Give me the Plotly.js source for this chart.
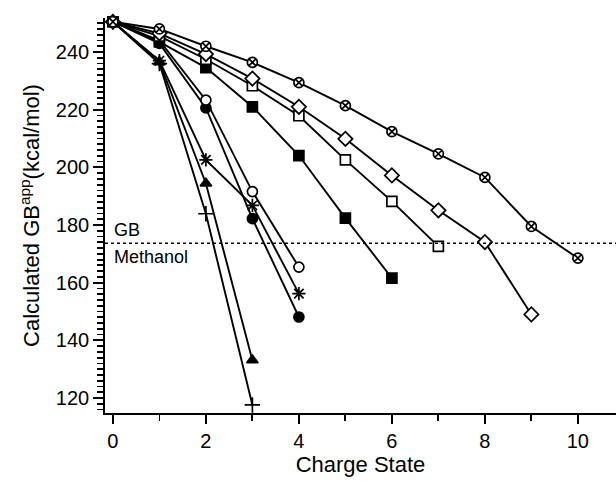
<!DOCTYPE html>
<html>
<head>
<meta charset="utf-8">
<script src="https://cdn.plot.ly/plotly-3.0.1.min.js"></script>
<style>html,body{margin:0;padding:0;background:#fff;}#chart{width:616px;height:482px;}</style>
</head>
<body>
<div id="chart"></div>
<script>
// Charge states
const chargeA = [0,1,2,3,4,5,6,7,8,9,10];
const gbA = [250.5,248,242,236.4,229.4,221.4,212.4,204.7,196.5,179.5,168.5];   // circle-x (open)
const chargeB = [0,1,2,3,4,5,6,7,8,9];
const gbB = [250.5,246.5,239.3,230.8,221,209.9,197.2,185.1,174.1,149];        // open diamond
const chargeC = [0,1,2,3,4,5,6,7];
const gbC = [250.5,245.5,237.5,228.3,217.9,202.6,188.2,172.6];                // open square
const chargeD = [0,1,2,3,4,5,6];
const gbD = [250.5,243.5,234.6,221,204.1,182.4,161.6];                        // filled square
const chargeE = [0,1,2,3,4];
const gbE = [250.5,244,223.3,191.6,165.4];                                    // open circle
const chargeF = [0,1,2,3,4];
const gbF = [250.5,243,220.6,182.2,148.1];                                    // filled circle
const chargeG = [0,1,2,3,4];
const gbG = [250.5,237,202.6,186.8,156.2];                                    // asterisk
const chargeH = [0,1,2,3];
const gbH = [250.5,236.5,194.4,133.1];                                        // filled triangle
const chargeI = [0,1,2,3];
const gbI = [250.5,236,183.9,117.6];                                          // plus
const gbMethanol = 173.7;
const xTickStep = 2, xMinorStep = 1;
const yTickStep = 20, yMinorStep = 2;
const xRange = [-0.17, 10.82];
const yRange = [114.8, 251.8];

function series(x, y, symbol, fill, size) {
  return {
    x: x, y: y, type: 'scatter', mode: 'lines+markers',
    line: {color: '#000', width: 1.9},
    marker: {symbol: symbol, size: size || 10, color: fill, line: {color: '#000', width: 1.7}},
    showlegend: false, cliponaxis: false
  };
}

const data = [
  series(chargeI, gbI, 'cross-thin-open', '#000', 11),
  series(chargeH, gbH, 'triangle-up', '#000', 10),
  series(chargeG, gbG, 'asterisk-open', '#000', 11),
  series(chargeF, gbF, 'circle', '#000', 10),
  series(chargeE, gbE, 'circle', '#fff', 10),
  series(chargeD, gbD, 'square', '#000', 10),
  series(chargeC, gbC, 'square', '#fff', 10),
  series(chargeB, gbB, 'diamond', '#fff', 11),
  series(chargeA, gbA, 'circle-x', '#fff', 10)
];

const font = {family: 'Liberation Sans, Arial, Helvetica, sans-serif', color: '#000'};

const layout = {
  width: 616, height: 482,
  margin: {l: 105, r: 0, t: 18, b: 69},
  paper_bgcolor: '#fff', plot_bgcolor: '#fff',
  font: Object.assign({size: 16}, font),
  xaxis: {
    range: xRange,
    tickmode: 'linear', tick0: 0, dtick: xTickStep,
    showline: true, linecolor: '#000', linewidth: 1.8,
    ticks: 'outside', ticklen: 9, tickwidth: 2, tickcolor: '#000',
    minor: {tickmode: 'linear', tick0: 0, dtick: xMinorStep, ticks: 'outside', ticklen: 6, tickwidth: 1.8, tickcolor: '#000'},
    showgrid: false, zeroline: false,
    tickfont: Object.assign({size: 20}, font),
    title: {text: 'Charge State', font: Object.assign({size: 22}, font), standoff: 4}
  },
  yaxis: {
    range: yRange,
    tickmode: 'linear', tick0: 0, dtick: yTickStep,
    showline: true, linecolor: '#000', linewidth: 1.8,
    ticks: 'outside', ticklen: 10, tickwidth: 2, tickcolor: '#000',
    minor: {tickmode: 'linear', tick0: 0, dtick: yMinorStep, ticks: 'outside', ticklen: 6, tickwidth: 1.8, tickcolor: '#000'},
    showgrid: false, zeroline: false,
    tickfont: Object.assign({size: 20}, font),
    title: {text: 'Calculated GB<sup>app</sup>(kcal/mol)', font: Object.assign({size: 22}, font), standoff: 10}
  },
  shapes: [{
    type: 'line', xref: 'paper', yref: 'y', x0: 0, x1: 1, y0: gbMethanol, y1: gbMethanol,
    line: {color: '#000', width: 1.6, dash: 'dot'}
  }],
  annotations: [
    {text: 'GB', xref: 'paper', yref: 'y', x: 0.014, y: gbMethanol, xanchor: 'left', yanchor: 'bottom',
     yshift: 1, showarrow: false, font: Object.assign({size: 18}, font)},
    {text: 'Methanol', xref: 'paper', yref: 'y', x: 0.014, y: gbMethanol, xanchor: 'left', yanchor: 'top',
     yshift: -2, showarrow: false, font: Object.assign({size: 18}, font)}
  ]
};

Plotly.newPlot('chart', data, layout, {displayModeBar: false, staticPlot: true});
</script>
</body>
</html>
